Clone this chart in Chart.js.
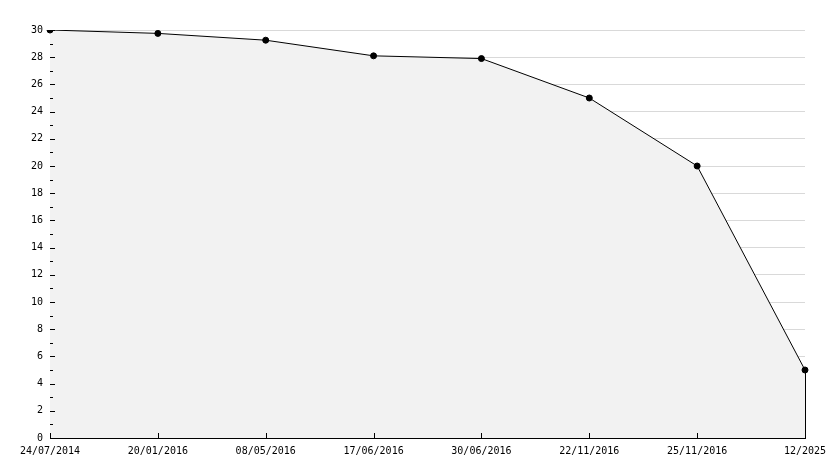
<!DOCTYPE html>
<html>
<head>
<meta charset="utf-8">
<script src="https://cdn.jsdelivr.net/npm/chart.js@4"></script>
<style>
html,body{margin:0;padding:0;background:#fff;}
#wrap{width:834px;height:468px;}
</style>
</head>
<body>
<div id="wrap"><canvas id="c" width="834" height="468"></canvas></div>
<script>
const categories = ["24/07/2014","20/01/2016","08/05/2016","17/06/2016","30/06/2016","22/11/2016","25/11/2016","12/2025"];
const values = [30, 29.75, 29.25, 28.1, 27.9, 25, 20, 5];
const yMin = 0, yMax = 30, yStep = 2;

const tickPlugin = {
  id: 'inwardTicks',
  afterDatasetsDraw(chart) {
    const ctx = chart.ctx;
    const x = chart.scales.x, y = chart.scales.y;
    const area = chart.chartArea;
    ctx.save();
    ctx.strokeStyle = '#000';
    ctx.lineWidth = 1;
    ctx.beginPath();
    for (let v = yMin; v <= yMax; v++) {
      const py = Math.round(y.getPixelForValue(v)) + 0.5;
      const len = (v % yStep === 0) ? 5 : 3;
      ctx.moveTo(area.left, py);
      ctx.lineTo(area.left + len, py);
    }
    for (let i = 0; i < categories.length; i++) {
      const px = Math.round(x.getPixelForValue(i)) + 0.5;
      ctx.moveTo(px, area.bottom);
      ctx.lineTo(px, area.bottom - 5);
    }
    // closing edge of the area at the last point
    const lastX = Math.round(x.getPixelForValue(categories.length - 1)) + 0.5;
    ctx.moveTo(lastX, y.getPixelForValue(values[values.length - 1]));
    ctx.lineTo(lastX, y.getPixelForValue(0));
    ctx.stroke();
    ctx.restore();
  }
};

new Chart(document.getElementById('c'), {
  type: 'line',
  data: {
    labels: categories,
    datasets: [{
      data: values,
      borderColor: '#000',
      borderWidth: 1,
      backgroundColor: '#f2f2f2',
      fill: 'origin',
      tension: 0,
      pointRadius: 3,
      pointHoverRadius: 3,
      pointStyle: 'circle',
      pointBackgroundColor: '#000',
      pointBorderColor: '#000',
      pointBorderWidth: 1
    }]
  },
  options: {
    responsive: false,
    animation: false,
    devicePixelRatio: 1,
    layout: { padding: { top: 30, right: 29, left: 0, bottom: 0 } },
    plugins: { legend: { display: false }, tooltip: { enabled: false } },
    scales: {
      x: {
        type: 'category',
        offset: false,
        grid: { display: false, drawTicks: false },
        border: { display: true, color: '#000', width: 1 },
        ticks: {
          color: '#000', padding: 7, maxRotation: 0, autoSkip: false,
          font: { family: 'DejaVu Sans Mono', size: 10 }
        },
        afterFit(s) { s.height = 30; }
      },
      y: {
        min: yMin, max: yMax,
        grid: {
          drawTicks: false,
          color: (c) => (c.tick && c.tick.value === 0) ? 'rgba(0,0,0,0)' : '#d9d9d9',
          lineWidth: 1
        },
        border: { display: true, color: '#000', width: 1 },
        ticks: {
          stepSize: yStep, color: '#000', padding: 7,
          font: { family: 'DejaVu Sans Mono', size: 10 }
        },
        afterFit(s) { s.width = 50; }
      }
    }
  },
  plugins: [tickPlugin]
});
</script>
</body>
</html>
